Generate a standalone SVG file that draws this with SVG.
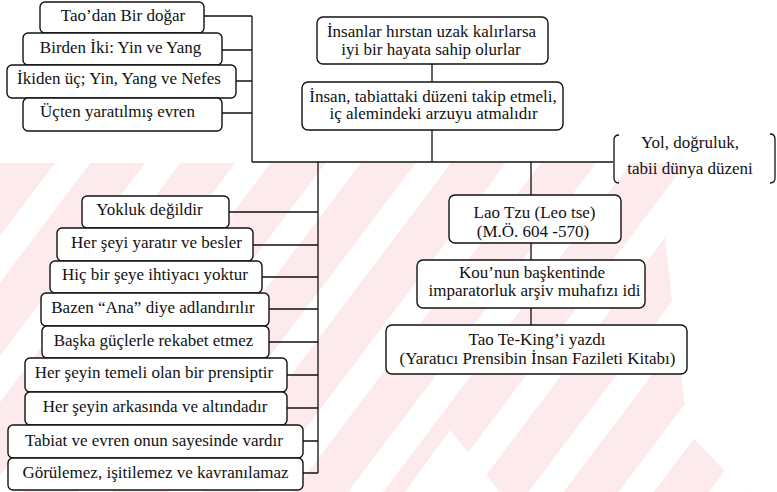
<svg xmlns="http://www.w3.org/2000/svg" width="777" height="492" viewBox="0 0 777 492">
<style>
.box{fill:#fff;stroke:#111;stroke-width:1.4}
.t{font-family:'Liberation Serif','Times New Roman',serif;font-size:17px;fill:#111;text-anchor:middle}
.c{stroke:#111;stroke-width:1.3;fill:none}
</style>
<defs>
<clipPath id="wmclip"><rect x="0" y="163" width="777" height="329"/></clipPath>
<pattern id="stripes" x="0" y="163" width="72" height="72" patternUnits="userSpaceOnUse" patternTransform="rotate(37 0 163)">
<rect x="0" y="0" width="72" height="72" fill="#fff"/>
<rect x="0" y="0" width="44" height="72" fill="#fdeaed"/>
</pattern>
</defs>
<rect width="777" height="492" fill="#fff"/>
<g id="watermark" clip-path="url(#wmclip)">
<rect x="0" y="163" width="777" height="329" fill="url(#stripes)"/>
<polygon fill="#fff" points="700,163 777,163 777,492 745,492 688,433 665,240"/>
<polygon fill="#fff" points="450,430 500,492 405,492"/>
</g>
<g id="connectors">
<path class="c" d="M204,16H252M222,50H252M236,81H252M222,113H252M252,16V162"/>
<path class="c" d="M252,162H613"/>
<path class="c" d="M432,64V82M432,130V162"/>
<path class="c" d="M318,162V473M229,212H318M253,245H318M262,277H318M269,309H318M269,342H318M287,375H318M287,408H318M303,441H318M303,473H318"/>
<path class="c" d="M531,162V195M531,243V260M531,308V325"/>
</g>
<g id="n1"><rect class="box" x="40" y="2" width="164" height="31" rx="5"/><text class="t" x="123" y="21">Tao’dan Bir doğar</text></g>
<g id="n2"><rect class="box" x="23" y="33" width="199" height="32" rx="5"/><text class="t" x="120.5" y="53">Birden İki: Yin ve Yang</text></g>
<g id="n3"><rect class="box" x="7" y="65" width="229" height="33" rx="5"/><text class="t" x="119" y="84">İkiden üç; Yin, Yang ve Nefes</text></g>
<g id="n4"><rect class="box" x="23" y="98" width="199" height="33" rx="5"/><text class="t" x="117.5" y="117">Üçten yaratılmış evren</text></g>
<g id="n5"><rect class="box" x="317" y="17" width="231" height="47" rx="6"/><text class="t" x="431.5" y="37">İnsanlar hırstan uzak kalırlarsa</text><text class="t" x="431" y="54.5">iyi bir hayata sahip olurlar</text></g>
<g id="n6"><rect class="box" x="302" y="82" width="261" height="48" rx="6"/><text class="t" x="433" y="101.5">İnsan, tabiattaki düzeni takip etmeli,</text><text class="t" x="433.5" y="119">iç alemindeki arzuyu atmalıdır</text></g>
<g id="n7"><path class="c" d="M619,135Q614,135 614,140V178Q614,183 619,183M770,134Q775,134 775,139V178Q775,183 770,183"/><text class="t" x="690" y="147.5">Yol, doğruluk,</text><text class="t" x="690" y="173.5">tabii dünya düzeni</text></g>
<g id="n8"><rect class="box" x="449" y="195" width="172" height="48" rx="6"/><text class="t" x="534.5" y="218">Lao Tzu (Leo tse)</text><text class="t" x="533" y="236.5">(M.Ö. 604 -570)</text></g>
<g id="n9"><rect class="box" x="417" y="260" width="228" height="48" rx="6"/><text class="t" x="532" y="278">Kou’nun başkentinde</text><text class="t" x="534.5" y="296">imparatorluk arşiv muhafızı idi</text></g>
<g id="n10"><rect class="box" x="386" y="325" width="301" height="49" rx="6"/><text class="t" x="537" y="345">Tao Te-King’i yazdı</text><text class="t" x="537.5" y="364">(Yaratıcı Prensibin İnsan Fazileti Kitabı)</text></g>
<g id="b1"><rect class="box" x="82" y="196" width="147" height="32" rx="5"/><text class="t" x="149.5" y="215">Yokluk değildir</text></g>
<g id="b2"><rect class="box" x="57" y="228" width="196" height="33" rx="5"/><text class="t" x="156.5" y="247.5">Her şeyi yaratır ve besler</text></g>
<g id="b3"><rect class="box" x="50" y="261" width="212" height="32" rx="5"/><text class="t" x="155" y="280">Hiç bir şeye ihtiyacı yoktur</text></g>
<g id="b4"><rect class="box" x="41" y="293" width="228" height="33" rx="5"/><text class="t" x="153" y="312.5">Bazen “Ana” diye adlandırılır</text></g>
<g id="b5"><rect class="box" x="42" y="326" width="227" height="32" rx="5"/><text class="t" x="153.5" y="346">Başka güçlerle rekabet etmez</text></g>
<g id="b6"><rect class="box" x="25" y="358" width="262" height="34" rx="5"/><text class="t" x="154" y="378">Her şeyin temeli olan bir prensiptir</text></g>
<g id="b7"><rect class="box" x="25" y="392" width="262" height="33" rx="5"/><text class="t" x="155" y="412">Her şeyin arkasında ve altındadır</text></g>
<g id="b8"><rect class="box" x="8" y="425" width="295" height="33" rx="5"/><text class="t" x="154" y="446">Tabiat ve evren onun sayesinde vardır</text></g>
<g id="b9"><rect class="box" x="8" y="458" width="295" height="32" rx="5"/><text class="t" x="155.5" y="478">Görülemez, işitilemez ve kavranılamaz</text></g>
</svg>
